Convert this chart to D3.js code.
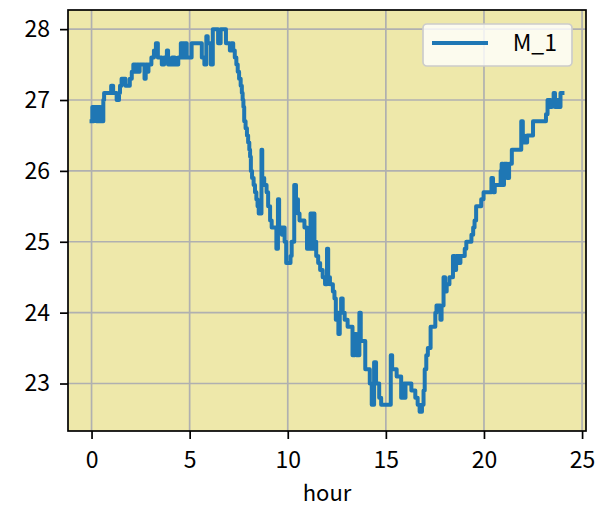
<!DOCTYPE html>
<html>
<head>
<meta charset="utf-8">
<script src="https://cdn.jsdelivr.net/npm/d3@7"></script>
<style>
  html, body { margin: 0; padding: 0; background: #ffffff; }
  svg { display: block; }
  text { font-family: "Noto Sans CJK JP", "Noto Sans", sans-serif; fill: #000; }
</style>
</head>
<body>
<svg id="chart" width="603" height="520"></svg>
<script>
const seriesName = "M_1";
const xLabel = "hour";
const xTicks = [0, 5, 10, 15, 20, 25];
const yTicks = [23, 24, 25, 26, 27, 28];

const hours = [
  0.00,0.04,0.08,0.12,0.17,0.21,0.25,0.30,0.35,0.40,0.45,0.50,0.55,
  0.60,0.64,1.00,1.10,1.28,1.40,1.45,1.53,1.73,1.95,2.05,2.13,2.25,2.30,2.40,2.45,2.70,2.76,2.85,2.90,
  3.05,3.18,3.28,3.38,3.58,3.70,3.84,3.90,4.10,4.25,4.42,4.55,4.62,4.66,4.72,4.76,4.85,5.10,5.62,5.75,
  5.85,5.92,6.08,6.18,6.45,6.58,6.85,7.05,7.12,7.22,7.30,7.38,7.45,7.52,7.60,7.66,7.70,7.74,7.78,7.85,
  7.92,7.98,8.04,8.08,8.12,8.18,8.26,8.33,8.40,8.46,8.52,8.66,8.70,8.80,8.92,9.00,9.10,9.18,9.42,9.50,
  9.56,9.70,9.78,9.84,9.92,10.14,10.20,10.33,10.42,10.52,10.60,10.85,10.98,11.16,11.24,11.28,11.36,11.45,
  11.55,11.65,11.78,11.90,12.00,12.06,12.15,12.30,12.38,12.45,12.52,12.58,12.65,12.72,12.80,12.90,13.05,
  13.30,13.42,13.50,13.65,13.72,13.95,14.18,14.28,14.40,14.50,14.66,14.76,15.25,15.32,15.55,15.78,15.84,
  15.88,15.92,15.96,16.00,16.30,16.50,16.62,16.72,16.84,16.92,16.98,17.06,17.14,17.28,17.52,17.58,17.78,
  17.84,17.94,18.02,18.10,18.24,18.42,18.52,18.58,18.72,18.80,19.02,19.10,19.36,19.45,19.52,19.60,19.86,
  19.98,20.38,20.46,20.55,20.85,20.90,20.96,21.02,21.18,21.28,21.42,21.90,21.98,22.05,22.20,22.50,23.16,
  23.24,23.40,23.46,23.55,23.62,23.70,23.78,23.90,24.00
];
const temps = [
  26.7,26.9,26.7,26.9,26.8,26.9,26.7,26.9,26.7,26.9,26.7,26.8,26.7,
  27.0,27.1,27.2,27.1,27.0,27.1,27.2,27.3,27.2,27.3,27.4,27.5,27.4,27.5,27.4,27.5,27.3,27.5,27.4,27.5,
  27.6,27.7,27.8,27.6,27.5,27.6,27.7,27.5,27.6,27.5,27.6,27.8,27.6,27.8,27.6,27.8,27.6,27.8,27.6,27.5,
  27.9,27.8,27.5,28.0,27.8,28.0,27.8,27.7,27.8,27.7,27.6,27.5,27.4,27.3,27.2,27.1,27.0,26.9,26.7,26.6,
  26.5,26.4,26.3,26.2,26.0,25.9,25.8,25.7,25.6,25.5,25.4,26.3,25.9,25.8,25.7,25.5,25.3,25.2,24.9,25.6,
  25.2,25.1,25.2,25.0,24.7,24.8,25.0,25.8,25.6,25.4,25.3,25.2,24.9,25.4,24.9,25.4,25.0,24.8,
  24.7,24.6,24.5,24.4,24.9,24.5,24.4,24.3,24.2,23.9,24.0,23.7,24.0,24.2,24.0,23.9,23.8,
  23.4,23.7,23.4,24.0,23.6,23.2,23.0,22.7,23.3,23.0,22.8,22.7,23.4,23.2,23.1,22.8,23.0,
  22.8,23.0,22.8,23.0,22.9,22.8,22.7,22.6,22.7,22.9,23.2,23.4,23.5,23.8,24.0,24.1,23.9,
  24.1,24.5,24.3,24.4,24.5,24.8,24.6,24.8,24.7,24.8,24.9,25.0,25.1,25.2,25.3,25.5,25.6,
  25.7,25.9,25.7,25.8,26.0,26.1,25.8,26.1,25.9,26.1,26.3,26.7,26.5,26.4,26.5,26.7,26.8,
  27.0,26.9,27.0,27.1,26.9,27.0,26.9,27.1,27.1
];

const data = hours.map((h, i) => ({ h: h, v: temps[i] }));

const svg = d3.select("#chart");
const pL = 68, pR = 586, pT = 10, pB = 431;
const fontFam = "'Noto Sans CJK JP', 'Noto Sans', sans-serif";

const xMin = d3.min(hours), xMax = d3.max(hours);
const xPad = (xMax - xMin) * 0.05;
const yMin = d3.min(temps), yMax = d3.max(temps);
const yPad = (yMax - yMin) * 0.05;

const x = d3.scaleLinear().domain([xMin - xPad, xMax + xPad]).range([pL, pR]);
const y = d3.scaleLinear().domain([yMin - yPad, yMax + yPad]).range([pB, pT]);

// background
svg.append("rect").attr("x", pL).attr("y", pT)
  .attr("width", pR - pL).attr("height", pB - pT)
  .attr("fill", "#EEE8AA");

// grid
const grid = svg.append("g");
grid.selectAll("line.gx").data(xTicks).join("line")
  .attr("class", "gx")
  .attr("x1", d => x(d)).attr("x2", d => x(d))
  .attr("y1", pT).attr("y2", pB)
  .attr("stroke", "#b0b0b0").attr("stroke-width", 1.7);
grid.selectAll("line.gy").data(yTicks).join("line")
  .attr("class", "gy")
  .attr("x1", pL).attr("x2", pR)
  .attr("y1", d => y(d)).attr("y2", d => y(d))
  .attr("stroke", "#b0b0b0").attr("stroke-width", 1.7);

// data line
svg.append("clipPath").attr("id", "clip").append("rect")
  .attr("x", pL).attr("y", pT).attr("width", pR - pL).attr("height", pB - pT);
const line = d3.line().x(d => x(d.h)).y(d => y(d.v)).curve(d3.curveStepAfter);
svg.append("path").datum(data)
  .attr("clip-path", "url(#clip)")
  .attr("fill", "none").attr("stroke", "#1f77b4")
  .attr("stroke-width", 4).attr("stroke-linejoin", "round").attr("stroke-linecap", "square")
  .attr("d", line);

// axes
const xAxis = d3.axisBottom(x).tickValues(xTicks).tickSize(8).tickPadding(13).tickFormat(d3.format("d"));
const yAxis = d3.axisLeft(y).tickValues(yTicks).tickSize(8).tickPadding(10).tickFormat(d3.format("d"));

const gx = svg.append("g").attr("transform", `translate(0,${pB})`).call(xAxis);
const gy = svg.append("g").attr("transform", `translate(${pL},0)`).call(yAxis);
[gx, gy].forEach(g => {
  g.select(".domain").remove();
  g.selectAll(".tick line").attr("stroke", "#000").attr("stroke-width", 1.7);
  g.selectAll(".tick text").attr("font-size", 23).attr("font-family", fontFam).attr("fill", "#000");
});

// spines
svg.append("rect").attr("x", pL).attr("y", pT)
  .attr("width", pR - pL).attr("height", pB - pT)
  .attr("fill", "none").attr("stroke", "#000").attr("stroke-width", 1.7);

// x label
svg.append("text").attr("x", (pL + pR) / 2).attr("y", 501)
  .attr("text-anchor", "middle").attr("font-size", 22).attr("font-family", fontFam).text(xLabel);

// legend
const lg = svg.append("g");
lg.append("rect").attr("x", 423).attr("y", 24).attr("width", 149).attr("height", 42)
  .attr("rx", 4).attr("fill", "#ffffff").attr("fill-opacity", 0.8)
  .attr("stroke", "#cccccc").attr("stroke-width", 1.7);
lg.append("line").attr("x1", 432).attr("x2", 488).attr("y1", 43).attr("y2", 43)
  .attr("stroke", "#1f77b4").attr("stroke-width", 4);
lg.append("text").attr("x", 557).attr("y", 51).attr("text-anchor", "end")
  .attr("font-size", 23).attr("font-family", fontFam).text(seriesName);
</script>
</body>
</html>
